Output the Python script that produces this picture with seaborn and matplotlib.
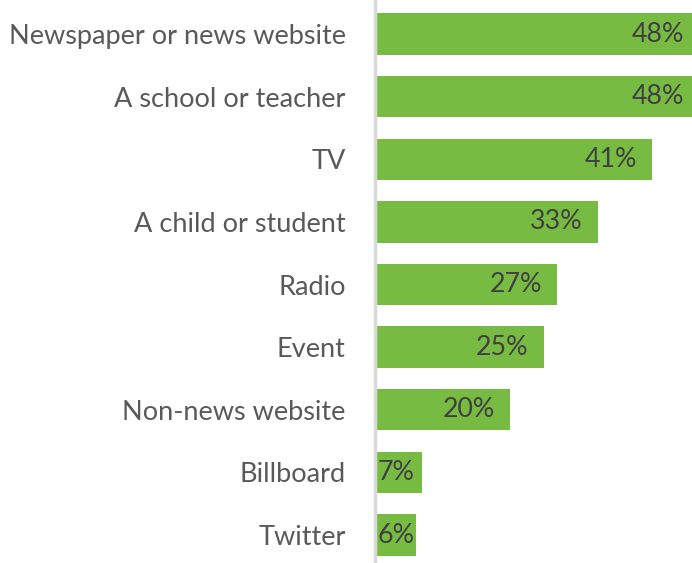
import matplotlib
matplotlib.use("Agg")
import matplotlib.pyplot as plt
import seaborn as sns
import pandas as pd

categories = ["Newspaper or news website", "A school or teacher", "TV",
              "A child or student", "Radio", "Event", "Non-news website",
              "Billboard", "Twitter"]
values = [48, 48, 41, 33, 27, 25, 20, 7, 6]
labels = ["48%", "48%", "41%", "33%", "27%", "25%", "20%", "7%", "6%"]

df = pd.DataFrame({"cat": categories, "val": values})

sns.set_theme(style="white")
plt.rcParams["font.family"] = ["Lato", "DejaVu Sans"]

fig = plt.figure(figsize=(6.92, 5.63), dpi=100)
ax = fig.add_axes([375 / 692, 0, 317 / 692, 1])

sns.barplot(data=df, y="cat", x="val", orient="h", color="#78BB43",
            saturation=1, width=0.66, ax=ax, edgecolor="none")

ax.set_xlim(0, 46.9)
ax.set_ylim(8.447, -0.543)
ax.set_xlabel("")
ax.set_ylabel("")
ax.set_xticks([])
for s in ["top", "right", "bottom"]:
    ax.spines[s].set_visible(False)
ax.spines["left"].set_color("#D9D9D9")
ax.spines["left"].set_linewidth(2.5)
ax.tick_params(axis="y", length=0, pad=21, labelsize=19.5, labelcolor="#595959")

for i, (v, t) in enumerate(zip(values, labels)):
    if v >= 15:
        ax.annotate(t, xy=(v, i), xytext=(-11, 0), textcoords="offset points",
                    ha="right", va="center", fontsize=19.3, color="#404040",
                    annotation_clip=False)
    else:
        ax.annotate(t, xy=(0, i), xytext=(1.5, 0), textcoords="offset points",
                    ha="left", va="center", fontsize=19.3, color="#404040")

fig.savefig("out.png", dpi=100)
